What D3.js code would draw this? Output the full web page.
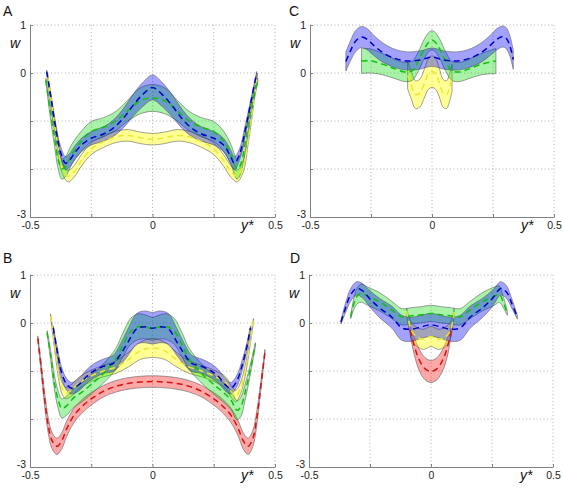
<!DOCTYPE html>
<html><head><meta charset="utf-8">
<script src="https://cdn.jsdelivr.net/npm/d3@7"></script>
<style>body{margin:0;background:#fff}svg{display:block}</style>
</head><body>
<script>
// ---------- data ----------
const xTicks = [-0.5, -0.25, 0, 0.25, 0.5];
const xTickLabels = ["-0.5", "", "0", "", "0.5"];
const yTicks = [1, 0, -1, -2, -3];
const yTickLabels = ["1", "0", "", "", "-3"];
const panelNames = ["A", "B", "C", "D"];

// Panel A
const aBlueX = [-0.432,-0.415,-0.395,-0.375,-0.355,-0.34,-0.32,-0.29,-0.25,-0.20,-0.16,-0.12,-0.08,-0.04,0,0.04,0.08,0.12,0.16,0.20,0.25,0.29,0.315,0.335,0.355,0.38,0.40,0.425];
const aBlueM = [0.03,-0.5,-1.15,-1.65,-1.88,-1.83,-1.68,-1.5,-1.36,-1.27,-1.15,-0.95,-0.68,-0.45,-0.3,-0.45,-0.68,-0.95,-1.15,-1.27,-1.36,-1.5,-1.7,-1.88,-1.7,-1.15,-0.65,0.0];
const aBlueH = [0.03,0.07,0.1,0.12,0.14,0.14,0.14,0.14,0.14,0.15,0.17,0.2,0.23,0.25,0.26,0.25,0.23,0.2,0.17,0.15,0.14,0.14,0.14,0.14,0.12,0.1,0.07,0.03];
const aGreenX = [-0.435,-0.42,-0.40,-0.385,-0.37,-0.355,-0.33,-0.29,-0.25,-0.20,-0.15,-0.10,-0.05,0,0.05,0.10,0.15,0.20,0.25,0.29,0.32,0.345,0.36,0.38,0.40,0.43];
const aGreenM = [-0.15,-0.7,-1.35,-1.8,-2.0,-1.95,-1.7,-1.42,-1.22,-1.13,-1.0,-0.78,-0.58,-0.52,-0.58,-0.78,-1.0,-1.13,-1.22,-1.42,-1.7,-2.0,-1.9,-1.4,-0.8,-0.15];
const aGreenH = [0.04,0.12,0.17,0.2,0.21,0.21,0.21,0.21,0.21,0.2,0.2,0.22,0.27,0.28,0.27,0.22,0.2,0.2,0.21,0.21,0.21,0.21,0.2,0.17,0.12,0.04];
const aYellowX = [-0.428,-0.41,-0.39,-0.37,-0.345,-0.32,-0.29,-0.25,-0.20,-0.15,-0.10,-0.05,0,0.05,0.10,0.15,0.20,0.25,0.29,0.32,0.345,0.37,0.39,0.41,0.428];
const aYellowM = [-0.05,-0.7,-1.4,-1.95,-2.15,-2.05,-1.82,-1.58,-1.43,-1.33,-1.3,-1.35,-1.38,-1.35,-1.3,-1.33,-1.43,-1.58,-1.82,-2.05,-2.15,-1.95,-1.4,-0.7,-0.05];
const aYellowH = [0.04,0.08,0.1,0.12,0.12,0.12,0.12,0.12,0.12,0.12,0.12,0.12,0.12,0.12,0.12,0.12,0.12,0.12,0.12,0.12,0.12,0.12,0.1,0.08,0.04];

// Panel B
const bRedX = [-0.468,-0.455,-0.44,-0.425,-0.41,-0.39,-0.37,-0.35,-0.32,-0.28,-0.25,-0.2,-0.15,-0.1,-0.05,0,0.05,0.1,0.15,0.2,0.25,0.28,0.32,0.35,0.37,0.39,0.41,0.425,0.44,0.459];
const bRedM = [-0.32,-0.9,-1.6,-2.15,-2.45,-2.57,-2.45,-2.2,-1.92,-1.7,-1.58,-1.42,-1.32,-1.26,-1.23,-1.22,-1.23,-1.26,-1.32,-1.42,-1.58,-1.7,-1.92,-2.2,-2.45,-2.57,-2.4,-2.0,-1.4,-0.6];
const bRedH = [0.05,0.1,0.14,0.16,0.17,0.17,0.17,0.16,0.15,0.14,0.13,0.12,0.12,0.12,0.12,0.12,0.12,0.12,0.12,0.12,0.13,0.14,0.15,0.16,0.17,0.17,0.17,0.15,0.1,0.05];
const bGreenX = [-0.43,-0.415,-0.40,-0.385,-0.37,-0.35,-0.32,-0.29,-0.25,-0.2,-0.15,-0.12,-0.09,-0.06,-0.03,0,0.03,0.06,0.09,0.12,0.15,0.2,0.25,0.29,0.32,0.345,0.36,0.38,0.40,0.42];
const bGreenM = [-0.2,-0.7,-1.25,-1.6,-1.78,-1.72,-1.55,-1.45,-1.28,-1.05,-0.75,-0.45,-0.18,-0.08,-0.08,-0.12,-0.08,-0.08,-0.18,-0.45,-0.75,-1.05,-1.28,-1.45,-1.6,-1.82,-1.75,-1.4,-0.95,-0.45];
const bGreenH = [0.04,0.1,0.15,0.18,0.2,0.2,0.2,0.2,0.2,0.2,0.22,0.25,0.27,0.27,0.25,0.24,0.25,0.27,0.27,0.25,0.22,0.2,0.2,0.2,0.2,0.2,0.2,0.16,0.1,0.04];
const bBlueX = [-0.405,-0.39,-0.37,-0.35,-0.33,-0.30,-0.27,-0.24,-0.2,-0.16,-0.13,-0.10,-0.064,-0.03,0,0.03,0.064,0.10,0.13,0.16,0.2,0.24,0.27,0.30,0.32,0.345,0.365,0.385,0.40];
const bBlueM = [-0.1,-0.55,-1.05,-1.28,-1.36,-1.28,-1.12,-1.0,-0.9,-0.84,-0.65,-0.4,-0.12,-0.08,-0.11,-0.08,-0.12,-0.4,-0.65,-0.84,-0.9,-1.0,-1.12,-1.3,-1.36,-1.2,-0.9,-0.5,-0.1];
const bBlueH = [0.04,0.08,0.11,0.12,0.12,0.13,0.14,0.15,0.15,0.17,0.22,0.28,0.32,0.33,0.33,0.33,0.32,0.28,0.22,0.17,0.15,0.15,0.14,0.13,0.12,0.12,0.11,0.08,0.04];
const bYellowX = [-0.416,-0.40,-0.385,-0.37,-0.355,-0.33,-0.30,-0.25,-0.2,-0.15,-0.1,-0.05,0,0.05,0.1,0.15,0.2,0.25,0.30,0.32,0.34,0.36,0.38,0.398,0.412];
const bYellowM = [0.15,-0.45,-1.0,-1.35,-1.46,-1.4,-1.25,-1.1,-1.0,-0.92,-0.77,-0.58,-0.52,-0.58,-0.77,-0.92,-1.0,-1.1,-1.25,-1.42,-1.52,-1.35,-0.95,-0.4,0.05];
const bYellowH = [0.04,0.08,0.11,0.12,0.12,0.12,0.12,0.12,0.12,0.13,0.15,0.18,0.2,0.18,0.15,0.13,0.12,0.12,0.12,0.12,0.12,0.12,0.11,0.08,0.04];

// Panel C
const cBlueX = [-0.353,-0.335,-0.315,-0.29,-0.265,-0.24,-0.2,-0.15,-0.1,-0.05,0,0.05,0.1,0.15,0.2,0.24,0.265,0.29,0.305,0.32,0.333];
const cBlueM = [0.24,0.45,0.65,0.75,0.7,0.58,0.42,0.3,0.25,0.27,0.33,0.27,0.25,0.3,0.42,0.58,0.7,0.76,0.72,0.55,0.28];
const cBlueH = [0.2,0.21,0.22,0.22,0.22,0.21,0.2,0.19,0.19,0.19,0.19,0.19,0.19,0.19,0.2,0.21,0.22,0.22,0.22,0.21,0.2];
const cGreenX = [-0.289,-0.25,-0.2,-0.15,-0.11,-0.08,-0.055,-0.03,-0.01,0,0.01,0.03,0.055,0.08,0.11,0.15,0.2,0.262];
const cGreenM = [0.25,0.25,0.18,0.08,0.02,0.05,0.25,0.52,0.66,0.68,0.66,0.52,0.25,0.05,0.02,0.08,0.18,0.25];
const cGreenH = [0.26,0.25,0.22,0.2,0.2,0.2,0.2,0.2,0.2,0.2,0.2,0.2,0.2,0.2,0.2,0.2,0.22,0.26];
const cYellowX = [-0.10,-0.085,-0.068,-0.05,-0.03,-0.015,0,0.015,0.03,0.045,0.06,0.072,0.082];
const cYellowM = [-0.05,-0.25,-0.45,-0.42,-0.2,-0.02,0.03,-0.02,-0.2,-0.42,-0.45,-0.3,-0.1];
const cYellowH = [0.28,0.29,0.29,0.29,0.3,0.32,0.33,0.32,0.3,0.29,0.29,0.29,0.28];

// Panel D
const dBlueX = [-0.369,-0.35,-0.33,-0.305,-0.28,-0.25,-0.21,-0.16,-0.12,-0.08,-0.04,0,0.04,0.08,0.12,0.16,0.21,0.25,0.286,0.31,0.33,0.354];
const dBlueM = [0.02,0.32,0.58,0.72,0.67,0.5,0.31,0.12,-0.1,-0.13,-0.08,-0.04,-0.08,-0.13,-0.1,0.12,0.31,0.5,0.72,0.64,0.42,0.12];
const dBlueH = [0.04,0.1,0.13,0.14,0.15,0.17,0.2,0.23,0.26,0.25,0.24,0.24,0.24,0.25,0.26,0.23,0.2,0.17,0.14,0.13,0.1,0.04];
const dGreenX = [-0.329,-0.315,-0.30,-0.285,-0.26,-0.21,-0.16,-0.12,-0.08,-0.04,0,0.04,0.08,0.12,0.16,0.21,0.26,0.28,0.295,0.313];
const dGreenM = [0.13,0.42,0.58,0.62,0.56,0.44,0.27,0.13,0.15,0.17,0.2,0.17,0.15,0.13,0.27,0.44,0.56,0.6,0.45,0.2];
const dGreenH = [0.04,0.12,0.17,0.19,0.19,0.19,0.18,0.17,0.17,0.17,0.17,0.17,0.17,0.17,0.18,0.19,0.19,0.17,0.12,0.04];
const dYellowX = [-0.10,-0.09,-0.075,-0.055,-0.03,0,0.03,0.055,0.075,0.088,0.095];
const dYellowM = [0.25,0.0,-0.2,-0.3,-0.34,-0.28,-0.34,-0.3,-0.2,0.0,0.25];
const dYellowH = [0.06,0.12,0.18,0.2,0.21,0.21,0.21,0.2,0.18,0.12,0.06];
const dRedX = [-0.085,-0.07,-0.05,-0.025,0,0.025,0.05,0.07,0.082];
const dRedM = [-0.15,-0.45,-0.75,-0.95,-1.01,-0.95,-0.75,-0.45,-0.15];
const dRedH = [0.1,0.18,0.22,0.23,0.23,0.23,0.22,0.18,0.1];

// ---------- styles ----------
const fillCol = {blue:"#0000ff", green:"#00dd00", yellow:"#ffff00", red:"#ff0000"};
const fillOp = {blue:0.36, green:0.34, yellow:0.42, red:0.34};
const lineCol = {blue:"#0000c8", green:"#10c010", yellow:"#e8e830", red:"#d81010"};

const panels = [
  {name:"A", L:30, R:275, T:25, B:217, lx:3, ly:16, series:[
    ["yellow",aYellowX,aYellowM,aYellowH],["green",aGreenX,aGreenM,aGreenH],["blue",aBlueX,aBlueM,aBlueH]]},
  {name:"B", L:30, R:275, T:275, B:467, lx:3, ly:263, series:[
    ["red",bRedX,bRedM,bRedH],["yellow",bYellowX,bYellowM,bYellowH],["green",bGreenX,bGreenM,bGreenH],["blue",bBlueX,bBlueM,bBlueH]]},
  {name:"C", L:310, R:554, T:25, B:217, lx:289, ly:16, series:[
    ["yellow",cYellowX,cYellowM,cYellowH],["green",cGreenX,cGreenM,cGreenH],["blue",cBlueX,cBlueM,cBlueH]]},
  {name:"D", L:309, R:553, T:275, B:467, lx:290, ly:263, series:[
    ["red",dRedX,dRedM,dRedH],["yellow",dYellowX,dYellowM,dYellowH],["green",dGreenX,dGreenM,dGreenH],["blue",dBlueX,dBlueM,dBlueH]]}
];

const svg = d3.select("body").append("svg").attr("width",563).attr("height",494);
const font = "'Liberation Sans', Arial, Helvetica, sans-serif";

panels.forEach(p => {
  const x = d3.scaleLinear().domain([-0.5,0.5]).range([p.L,p.R]);
  const y = d3.scaleLinear().domain([-3,1]).range([p.B,p.T]);
  const g = svg.append("g");

  // grid (dotted)
  xTicks.forEach(t => { if (t !== -0.5) g.append("line").attr("x1",x(t)).attr("x2",x(t)).attr("y1",p.T).attr("y2",p.B)
      .attr("stroke","#b0b0b0").attr("stroke-width",1).attr("stroke-dasharray","1,2.5"); });
  yTicks.forEach(t => { if (t !== -3) g.append("line").attr("x1",p.L).attr("x2",p.R).attr("y1",y(t)).attr("y2",y(t))
      .attr("stroke","#b0b0b0").attr("stroke-width",1).attr("stroke-dasharray","1,2.5"); });

  // bands
  p.series.forEach(([c,X,M,H]) => {
    const pts = X.map((v,i)=>({x:v,m:M[i],h:H[i]}));
    const area = d3.area().curve(d3.curveCatmullRom.alpha(0.5))
      .x(d=>x(d.x)).y0(d=>y(d.m-d.h)).y1(d=>y(d.m+d.h));
    g.append("path").datum(pts).attr("d",area)
      .attr("fill",fillCol[c]).attr("fill-opacity",fillOp[c])
      .attr("stroke","#505050").attr("stroke-width",0.6).attr("stroke-opacity",0.9);
  });
  // mean lines
  p.series.forEach(([c,X,M,H]) => {
    const pts = X.map((v,i)=>({x:v,m:M[i]}));
    const line = d3.line().curve(d3.curveCatmullRom.alpha(0.5)).x(d=>x(d.x)).y(d=>y(d.m));
    g.append("path").datum(pts).attr("d",line).attr("fill","none")
      .attr("stroke",lineCol[c]).attr("stroke-width",1.5).attr("stroke-dasharray","6,4");
  });

  // axes
  const xAxis = d3.axisBottom(x).tickValues(xTicks).tickSizeInner(-3).tickSizeOuter(0)
    .tickFormat((d,i)=>xTickLabels[i]).tickPadding(5);
  const gx = g.append("g").attr("transform",`translate(0,${p.B})`).call(xAxis);
  const yAxis = d3.axisLeft(y).tickValues(yTicks).tickSizeInner(-3).tickSizeOuter(0)
    .tickFormat((d,i)=>yTickLabels[i]).tickPadding(5);
  const gy = g.append("g").attr("transform",`translate(${p.L},0)`).call(yAxis);
  [gx,gy].forEach(a => {
    a.select(".domain").attr("stroke","#808080").attr("stroke-width",1);
    a.selectAll(".tick line").attr("stroke","#808080");
    a.selectAll(".tick text").attr("font-family",font).attr("font-size","10.5px").attr("fill","#222");
  });
  gy.selectAll(".tick text").attr("dx","1");
  gy.selectAll(".tick").filter(d => d === -3).select("text").attr("dy","0.0em");
  gx.selectAll(".tick text").attr("dy","0.62em");

  // labels
  g.append("text").attr("x",p.lx).attr("y",p.ly).text(p.name)
    .attr("font-family",font).attr("font-size","14px").attr("fill","#111");
  g.append("text").attr("x",p.L-20).attr("y",p.T+23).text("w")
    .attr("font-family",font).attr("font-size","14px").attr("font-style","italic").attr("fill","#111");
  g.append("text").attr("x",p.L+211).attr("y",p.B+13).text("y*")
    .attr("font-family",font).attr("font-size","14px").attr("font-style","italic").attr("fill","#111");
});
</script>
</body></html>
